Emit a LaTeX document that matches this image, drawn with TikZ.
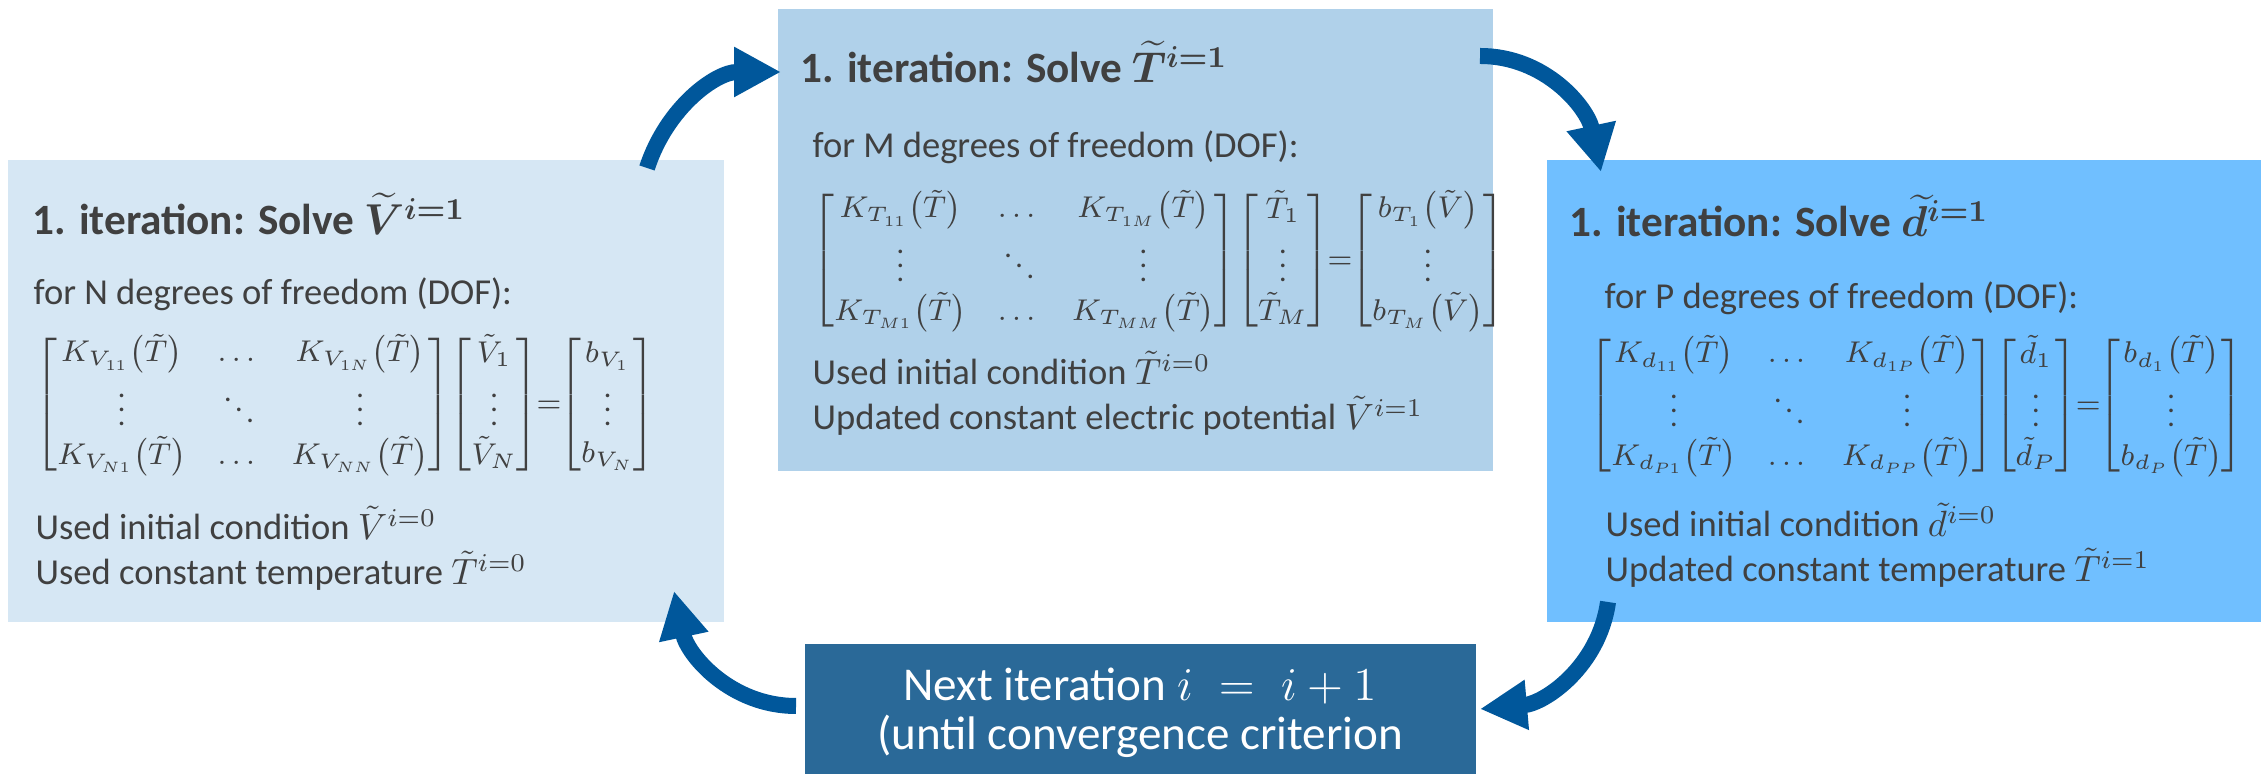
\documentclass[tikz,border=0pt]{standalone}
\usepackage{fix-cm}
\usepackage{amsmath,bm}
\usepackage{fontspec}
\setmainfont{Carlito}
\usetikzlibrary{arrows.meta,positioning,calc}
\definecolor{boxv}{HTML}{D6E7F4}
\definecolor{boxt}{HTML}{B0D1EA}
\definecolor{boxd}{HTML}{70BFFF}
\definecolor{boxnext}{HTML}{2A6998}
\definecolor{flowblue}{HTML}{00579B}
\definecolor{txtgray}{HTML}{404040}
\newcommand{\tT}{\tilde{T}}
\newcommand{\ofT}{\bigl(\tilde{T}\bigr)}
\newcommand{\ofV}{\bigl(\tilde{V}\bigr)}
\setlength{\arraycolsep}{4.5pt}

\begin{document}
\begin{tikzpicture}[
      box/.style={anchor=north west,inner sep=0pt,outer sep=0pt},
      ttl/.style={anchor=base west,inner sep=0pt,text=txtgray,
                  font=\fontsize{12.3}{14}\selectfont\bfseries},
      txt/.style={anchor=base west,inner sep=0pt,text=txtgray,
                  font=\fontsize{10.4}{12.5}\selectfont},
      mat/.style={anchor=west,inner sep=0pt,text=txtgray,
                  font=\fontsize{8.55}{10.3}\selectfont},
      flow/.style={line width=1.6mm,draw=flowblue,
                   -{Triangle[length=4.7mm,width=4.7mm]}}]
    \useasboundingbox (0,0) rectangle (22.67,7.74);

    % ================= the three solve steps =================
    \node[box,fill=boxv,minimum width=7.16cm,minimum height=4.62cm]
      (solveV) at (0.08,6.14) {};
    \node[box,fill=boxt,minimum width=7.15cm,minimum height=4.62cm]
      (solveT) at (7.78,7.65) {};
    \node[box,fill=boxd,minimum width=7.14cm,minimum height=4.62cm]
      (solveD) at (15.47,6.14) {};
    \node[box,fill=boxnext,minimum width=6.71cm,minimum height=1.30cm]
      (next) at (8.05,1.30) {};

    % electric potential
    \node[ttl] (vTitle) at (0.32,5.39) {1. iteration: Solve {\boldmath$\widetilde{V}^{i=1}$}};
    \node[txt] (vDof) at (0.33,4.69) {for N degrees of freedom (DOF):};
    \node[mat] (vMat) at (0.35,3.69)
      {$\begin{bmatrix} K_{V_{11}}\ofT & \dots & K_{V_{1N}}\ofT\\
                        \vdots & \ddots & \vdots\\
                        K_{V_{N1}}\ofT & \dots & K_{V_{NN}}\ofT \end{bmatrix}
        \!\begin{bmatrix} \tilde{V}_1\\ \vdots\\ \tilde{V}_N \end{bmatrix}
        \!\!=\!\!
        \begin{bmatrix} b_{V_1}\\ \vdots\\ b_{V_N} \end{bmatrix}$};
    \node[txt] (vUsed) at (0.35,2.34) {Used initial condition $\tilde{V}^{i=0}$};
    \node[txt] (vConst) at (0.35,1.89) {Used constant temperature $\tT^{i=0}$};

    % temperature
    \node[ttl] (tTitle) at (8.00,6.91) {1. iteration: Solve {\boldmath$\widetilde{T}^{i=1}$}};
    \node[txt] (tDof) at (8.12,6.16) {for M degrees of freedom (DOF):};
    \node[mat] (tMat) at (8.12,5.13)
      {$\begin{bmatrix} K_{T_{11}}\ofT & \dots & K_{T_{1M}}\ofT\\
                        \vdots & \ddots & \vdots\\
                        K_{T_{M1}}\ofT & \dots & K_{T_{MM}}\ofT \end{bmatrix}
        \!\begin{bmatrix} \tT_1\\ \vdots\\ \tT_M \end{bmatrix}
        \!\!=\!\!
        \begin{bmatrix} b_{T_1}\ofV\\ \vdots\\ b_{T_M}\ofV \end{bmatrix}$};
    \node[txt] (tUsed) at (8.12,3.89) {Used initial condition $\tT^{i=0}$};
    \node[txt] (tUpd) at (8.12,3.44) {Updated constant electric potential $\tilde{V}^{i=1}$};

    % displacement
    \node[ttl] (dTitle) at (15.69,5.37) {1. iteration: Solve {\boldmath$\widetilde{d}^{i=1}$}};
    \node[txt] (dDof) at (16.04,4.65) {for P degrees of freedom (DOF):};
    \node[mat] (dMat) at (15.89,3.68)
      {$\begin{bmatrix} K_{d_{11}}\ofT & \dots & K_{d_{1P}}\ofT\\
                        \vdots & \ddots & \vdots\\
                        K_{d_{P1}}\ofT & \dots & K_{d_{PP}}\ofT \end{bmatrix}
        \!\begin{bmatrix} \tilde{d}_1\\ \vdots\\ \tilde{d}_P \end{bmatrix}
        \!\!=\!\!
        \begin{bmatrix} b_{d_1}\ofT\\ \vdots\\ b_{d_P}\ofT \end{bmatrix}$};
    \node[txt] (dUsed) at (16.05,2.37) {Used initial condition $\tilde{d}^{i=0}$};
    \node[txt] (dUpd) at (16.05,1.92) {Updated constant temperature $\tT^{i=1}$};

    % next iteration
    \node[anchor=base,inner sep=0pt,align=center,text=white,
          font=\fontsize{13.4}{14.2}\selectfont] (nextTxt) at (11.40,0.24)
      {Next iteration $i\;=\;i+1$\\ (until convergence criterion};

    % ================= loop arrows =================
    \coordinate (vOut) at (6.47,6.06);
    \coordinate (tIn) at (7.81,7.02);
    \coordinate (tOut) at (14.80,7.18);
    \coordinate (dIn) at (16.01,6.02);
    \coordinate (dOut) at (16.08,1.72);
    \coordinate (nextIn) at (14.80,0.65);
    \coordinate (nextOut) at (7.96,0.68);
    \coordinate (vIn) at (6.74,1.83);

    \draw[flow] (vOut) to[out=72,in=180] (tIn);
    \draw[flow] (tOut) to[out=0,in=102] (dIn);
    \draw[flow] (dOut) to[out=-98,in=5] (nextIn);
    \draw[flow] (nextOut) to[out=180,in=-78] (vIn);
  \end{tikzpicture}
\end{document}
